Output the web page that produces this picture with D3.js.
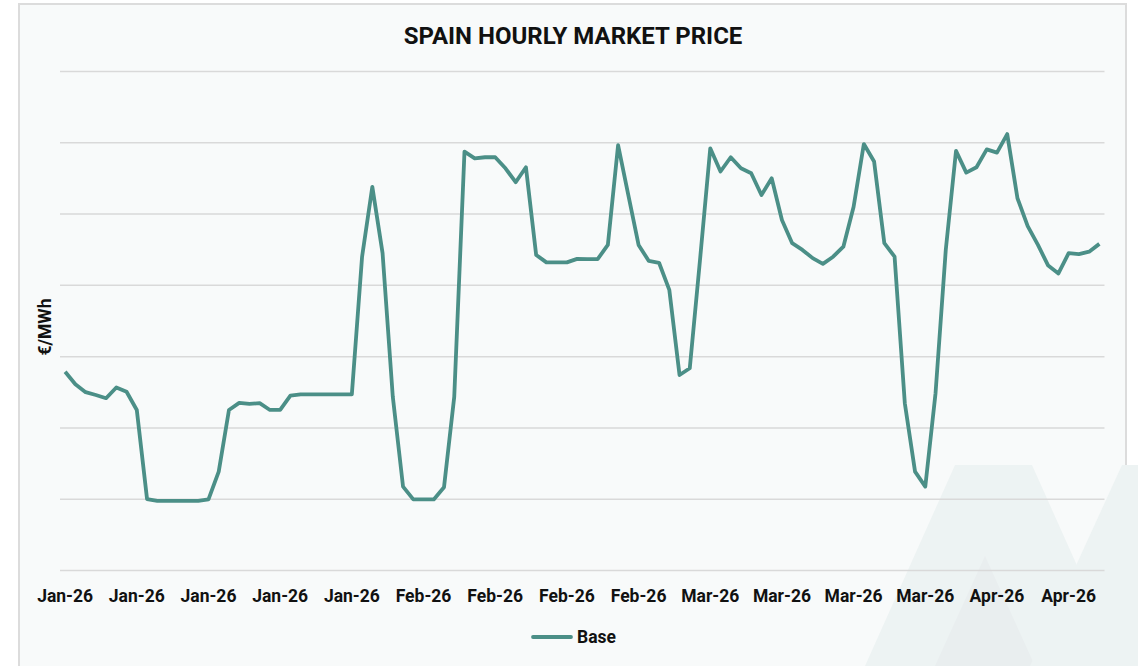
<!DOCTYPE html>
<html>
<head>
<meta charset="utf-8">
<script src="https://cdn.jsdelivr.net/npm/d3@7"></script>
<style>
  body { margin: 0; background: #ffffff; }
  svg { display: block; font-family: Roboto, "Liberation Sans", sans-serif; }
</style>
</head>
<body>
<div id="chart"></div>
<script>
// hourly base price, one value per category
const baseValues = [
  55.6, 52.1, 49.9, 49.1, 48.2, 51.2, 50.0, 44.9, 19.9, 19.4,
  19.4, 19.4, 19.4, 19.4, 19.8, 27.6, 44.9, 46.9, 46.6, 46.8,
  44.9, 44.9, 48.9, 49.3, 49.3, 49.3, 49.3, 49.3, 49.3, 87.9,
  107.5, 88.9, 48.6, 23.4, 19.8, 19.8, 19.8, 23.2, 48.6, 117.4,
  115.5, 115.8, 115.8, 112.7, 108.8, 113.0, 88.4, 86.3, 86.3, 86.3,
  87.3, 87.2, 87.2, 91.2, 119.2, 105.2, 91.2, 86.7, 86.2, 78.6,
  54.7, 56.6, 87.0, 118.3, 111.8, 115.8, 112.7, 111.3, 105.2, 109.9,
  98.2, 91.7, 89.8, 87.5, 85.9, 87.9, 90.7, 101.9, 119.5, 114.6,
  91.7, 87.9, 46.8, 27.6, 23.4, 49.6, 89.8, 117.6, 111.5, 113.0,
  118.0, 117.1, 122.3, 104.3, 96.5, 91.2, 85.4, 83.2, 88.9, 88.6,
  89.3, 91.5
];
const tickLabels = ["Jan-26", "Jan-26", "Jan-26", "Jan-26", "Jan-26",
  "Feb-26", "Feb-26", "Feb-26", "Feb-26",
  "Mar-26", "Mar-26", "Mar-26", "Mar-26",
  "Apr-26", "Apr-26"];
const tickStep = 7;
const yTicks = [0, 20, 40, 60, 80, 100, 120, 140];
const seriesName = "Base";

const width = 1138, height = 666;
const margin = { left: 60, right: 33.5, top: 71, bottom: 96 };
const lineColor = "#4b8f87";

const svg = d3.select("#chart").append("svg")
  .attr("width", width)
  .attr("height", height);

// card background + border
svg.append("rect")
  .attr("x", 19).attr("y", 4)
  .attr("width", 1107).attr("height", 670)
  .attr("fill", "#f8fafa")
  .attr("stroke", "#dcdcdc")
  .attr("stroke-width", 2);

// faint logo watermark, bottom right
const wm = svg.append("g");
wm.append("polygon")
  .attr("points", "865,666 955,465 1032,465 1122,666")
  .attr("fill", "#edf3f3");
wm.append("polygon")
  .attr("points", "935,666 985,556 1035,666")
  .attr("fill", "#e9eeef");
wm.append("polygon")
  .attr("points", "1030,666 1122,465 1138,465 1138,666")
  .attr("fill", "#edf3f3");

const x = d3.scaleBand()
  .domain(d3.range(baseValues.length))
  .range([margin.left, width - margin.right]);
const xc = i => x(i) + x.bandwidth() / 2;

const y = d3.scaleLinear()
  .domain([0, 140])
  .range([height - margin.bottom, margin.top]);

// gridlines
svg.append("g")
  .attr("transform", `translate(${margin.left},0)`)
  .call(d3.axisLeft(y).tickValues(yTicks).tickSize(-(width - margin.left - margin.right)).tickFormat(""))
  .call(g => g.select(".domain").remove())
  .call(g => g.selectAll(".tick line").attr("stroke", "#d9d9d9").attr("stroke-width", 1.5));

// x axis labels
const tickIdx = tickLabels.map((d, i) => i * tickStep);
svg.append("g")
  .attr("transform", `translate(0,${y(0)})`)
  .call(d3.axisBottom(x).tickValues(tickIdx).tickSize(0).tickPadding(20)
    .tickFormat(i => tickLabels[i / tickStep]))
  .call(g => g.select(".domain").remove())
  .call(g => g.selectAll(".tick text")
    .attr("font-size", 17.5).attr("font-weight", 700).attr("fill", "#111")
    .attr("font-family", "Roboto, sans-serif"));

// line
const line = d3.line()
  .x((d, i) => xc(i))
  .y(d => y(d));

svg.append("path")
  .datum(baseValues)
  .attr("fill", "none")
  .attr("stroke", lineColor)
  .attr("stroke-width", 3.8)
  .attr("stroke-linejoin", "round")
  .attr("d", line);

// title
svg.append("text")
  .attr("x", 573).attr("y", 44)
  .attr("text-anchor", "middle")
  .attr("font-size", 24).attr("font-weight", 700)
  .attr("fill", "#111")
  .text("SPAIN HOURLY MARKET PRICE");

// y label
svg.append("text")
  .attr("transform", "translate(51,327) rotate(-90)")
  .attr("text-anchor", "middle")
  .attr("font-size", 17.5).attr("font-weight", 700)
  .attr("fill", "#111")
  .text("€/MWh");

// legend
const lg = svg.append("g").attr("transform", "translate(533,637)");
lg.append("line")
  .attr("x1", 0).attr("x2", 38)
  .attr("stroke", lineColor).attr("stroke-width", 3.8)
  .attr("stroke-linecap", "round");
lg.append("text")
  .attr("x", 44).attr("y", 6)
  .attr("font-size", 17.5).attr("font-weight", 700)
  .attr("fill", "#111")
  .text(seriesName);
</script>
</body>
</html>
